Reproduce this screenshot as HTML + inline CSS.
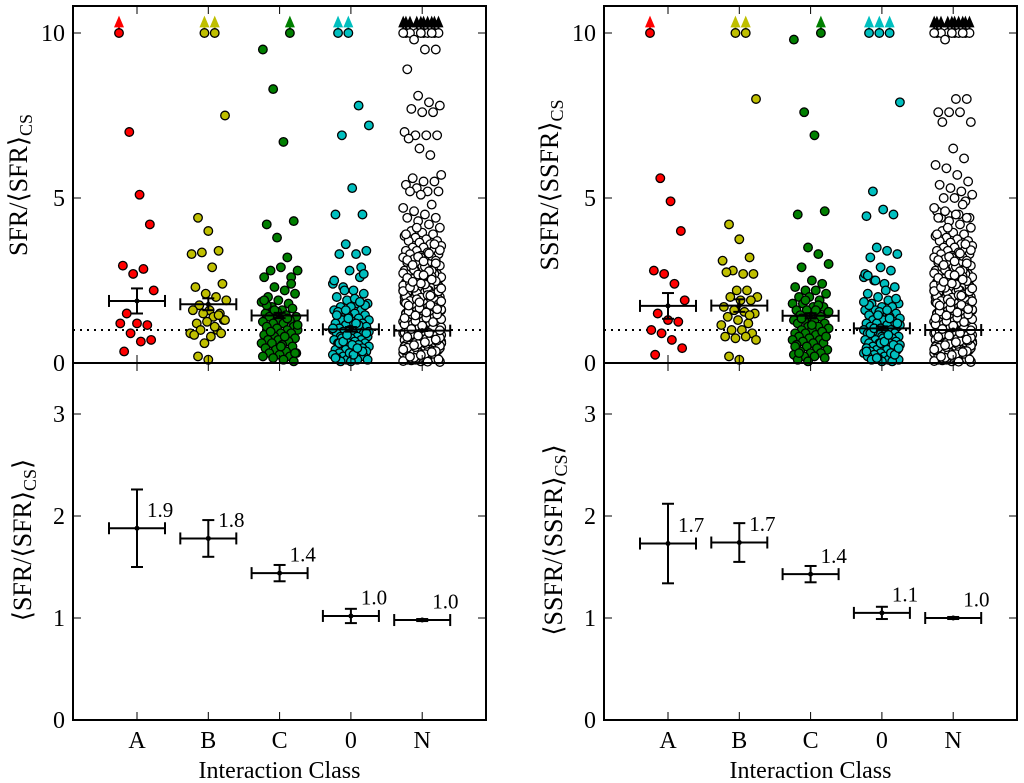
<!DOCTYPE html>
<html><head><meta charset="utf-8"><style>
html,body{margin:0;padding:0;background:#fff;}
svg{display:block;font-family:"Liberation Serif",serif;}
</style></head><body>
<svg id="fig" width="1024" height="783" viewBox="0 0 1024 783" xmlns="http://www.w3.org/2000/svg"></svg>
<script>
const categories = ["A","B","C","0","N"];
const colors = ["#ff0000","#bfbf00","#007f00","#00bfbf","#ffffff"];
// values above 10 are off-scale (drawn at 10 with an arrow)
const sfrA = [12,7.0,5.1,4.2,2.95,2.7,2.85,2.2,1.5,1.2,1.15,1.2,0.9,0.65,0.7,0.35];
const sfrB = [12,12,7.5,4.4,4.0,3.4,3.3,3.35,2.9,2.4,2.3,2.1,2.0,1.9,1.75,1.6,1.5,1.6,1.5,1.4,1.3,1.2,1.25,1.0,0.9,1.0,0.8,0.9,0.85,0.6,1.1,1.3,0.2,0.1,1.45];
const sfrC = [12,9.5,8.3,6.7,4.3,4.2,3.8,3.2,2.8,2.8,2.9,2.6,2.6,2.3,2.2,2.1,2.0,1.9,1.8,1.85,1.7,1.6,1.65,1.5,1.5,1.45,1.4,1.4,1.3,1.3,1.25,1.2,1.2,1.1,1.1,1.05,1.0,1.0,0.95,0.9,0.9,0.85,0.8,0.8,0.75,0.7,0.7,0.65,0.6,0.6,0.55,0.5,0.45,0.4,0.35,0.3,0.3,0.25,0.2,0.2,0.15,0.1,0.05,1.75,1.55,1.35,1.15,0.95,0.5,2.4,1.9,1.6,0.8,0.3];
const sfr0 = [12,12,7.8,7.2,6.9,5.3,4.5,4.5,3.6,3.3,3.4,3.3,2.8,2.6,2.4,2.3,2.2,2.1,2.0,1.9,1.8,1.8,1.7,1.7,1.6,1.6,1.5,1.5,1.45,1.4,1.4,1.35,1.3,1.3,1.25,1.2,1.2,1.15,1.1,1.1,1.05,1.0,1.0,1.0,0.95,0.9,0.9,0.9,0.85,0.8,0.8,0.8,0.75,0.7,0.7,0.7,0.65,0.6,0.6,0.6,0.55,0.5,0.5,0.5,0.45,0.4,0.4,0.4,0.35,0.3,0.3,0.3,0.25,0.2,0.2,0.2,0.15,0.1,0.1,0.1,0.05,0.05,2.9,2.5,2.2,1.95,1.75,1.55,1.35,1.15,0.95,0.75,0.55,0.35,0.15,1.6,1.2,0.9,0.6,0.3,1.85,1.05,0.65,0.25,2.7,1.45,0.85,0.45];
const sfrN = [12,12,12,12,12,12,12,12,12,12,9.8,9.5,9.5,8.9,8.1,7.9,7.8,7.7,7.6,7.6,7.0,6.9,6.9,6.9,6.8,6.5,6.3,5.7,5.6,5.5,5.5,5.4,5.3,5.2,5.2,5.2,5.1,4.8,4.7,4.6,4.5,4.4,4.4,4.3,4.2,4.1,4.0,3.95,3.9,3.85,3.8,3.75,3.7,3.7,3.65,3.6,3.55,3.5,3.5,3.45,3.4,3.4,3.35,3.3,3.3,3.25,3.2,3.2,3.15,3.1,3.1,3.05,3.0,3.0,2.95,2.9,2.9,2.85,2.8,2.8,2.75,2.7,2.7,2.65,2.6,2.6,2.55,2.5,2.5,2.45,2.4,2.4,2.35,2.3,2.3,2.25,2.2,2.2,2.15,2.1,2.1,2.05,2.0,2.0,1.95,1.9,1.9,1.85,1.8,1.8,1.75,1.7,1.7,1.65,1.6,1.6,1.55,1.5,1.5,1.45,1.4,1.4,1.35,1.3,1.3,1.25,1.2,1.2,1.15,1.1,1.1,1.05,1.0,1.0,0.95,0.9,0.9,0.85,0.8,0.8,0.75,0.7,0.7,0.65,0.6,0.6,0.55,0.5,0.5,0.45,0.4,0.4,0.35,0.3,0.3,0.25,0.2,0.2,0.15,0.1,0.1,0.05,2.9,2.6,2.3,2.0,1.8,1.6,1.4,1.2,1.0,0.8,0.6,0.4,0.2,2.7,2.4,2.1,1.9,1.7,1.5,1.3,1.1,0.9,0.7,0.5,0.3,0.1,2.5,2.2,1.9,1.6,1.3,1.0,0.7,0.4,0.15,2.0,1.7,1.4,1.1,0.85,0.55,0.25,1.8,1.5,1.2,0.95,0.65,0.35,0.05,1.6,1.25,0.9,0.6,0.3,1.35,1.05,0.75,0.45,0.2,1.15,0.85,0.5,0.1,0.95,0.65,0.3,0.8,0.4,0.6,0.2,1.45,1.0,0.55,0.15,1.25,0.7,0.35,3.2,2.8,2.35,1.95,1.55,
 0.12,0.22,0.32,0.42,0.52,0.62,0.72,0.82,0.92,1.02,1.12,1.22,1.32,1.42,1.52,1.62,1.72,1.82,1.92,2.02,2.12,2.22,2.32,2.42,2.52,2.62,2.72,2.82,2.92,3.02,3.12,3.22,3.32,3.42,
 0.08,0.18,0.28,0.38,0.48,0.58,0.68,0.78,0.88,0.98,1.08,1.18,1.28,1.38,1.48,1.58,1.68,1.78,1.88,1.98,2.08,2.18,2.28,2.38,2.48,2.58,2.68,2.78,
 0.03,0.14,0.26,0.37,0.49,0.61,0.73,0.86,0.97,1.09,1.21,1.33,1.46,1.57,1.69,1.81,1.93,2.06,2.17,2.29,2.41,2.53,
 0.06,0.16,0.27,0.36,0.46,0.57,0.66,0.77,0.87,0.96,1.07,1.17,1.27,1.37,1.47,1.56,1.66,1.76,1.87,2.97,3.08,3.6,3.9,4.1,
 0.04,0.11,0.19,0.24,0.33,0.41,0.54,0.63,0.71,0.79,0.83,0.91,0.99,1.03,1.13,1.24,1.36,1.44,1.53,1.63,1.74,1.84,2.04,2.26,2.46,2.66];
const ssfrA = [12,5.6,4.9,4.0,2.8,2.7,2.4,1.9,1.5,1.3,1.25,1.0,0.9,0.7,0.45,0.25];
const ssfrB = [12,12,8.0,4.2,3.75,3.2,3.1,2.8,2.7,2.7,2.75,2.2,2.2,2.0,2.0,1.9,1.9,1.7,1.6,1.55,1.5,1.4,1.3,1.2,1.15,1.0,1.0,0.9,0.8,0.75,0.8,0.7,0.2,0.1,1.45];
const ssfrC = [12,9.8,7.6,6.9,4.6,4.5,3.5,3.3,3.0,2.9,2.5,2.4,2.3,2.2,2.2,2.1,2.0,2.0,1.9,1.8,1.8,1.7,1.7,1.6,1.6,1.5,1.5,1.45,1.4,1.4,1.3,1.3,1.25,1.2,1.2,1.1,1.1,1.05,1.0,1.0,0.95,0.9,0.9,0.85,0.8,0.8,0.75,0.7,0.7,0.65,0.6,0.6,0.55,0.5,0.45,0.4,0.35,0.3,0.3,0.25,0.2,0.2,0.15,0.1,0.05,1.75,1.55,1.35,1.15,0.95,0.5,1.9,1.6,0.8,0.3];
const ssfr0 = [12,12,12,7.9,5.2,4.65,4.5,4.45,3.5,3.4,3.3,3.2,2.9,2.8,2.6,2.5,2.4,2.3,2.1,2.0,1.9,1.8,1.8,1.7,1.7,1.6,1.6,1.5,1.5,1.45,1.4,1.4,1.35,1.3,1.3,1.25,1.2,1.2,1.15,1.1,1.1,1.05,1.0,1.0,1.0,0.95,0.9,0.9,0.9,0.85,0.8,0.8,0.8,0.75,0.7,0.7,0.7,0.65,0.6,0.6,0.6,0.55,0.5,0.5,0.5,0.45,0.4,0.4,0.4,0.35,0.3,0.3,0.3,0.25,0.2,0.2,0.2,0.15,0.1,0.1,0.1,0.05,0.05,2.7,2.5,2.2,1.95,1.75,1.55,1.35,1.15,0.95,0.75,0.55,0.35,0.15,1.6,1.2,0.9,0.6,0.3,1.85,1.05,0.65,0.25,2.65,1.45,0.85,0.45];
const ssfrN = sfrN.slice(0);
ssfrN.splice(10,27,9.8,8.0,8.0,7.6,7.6,7.6,7.3,7.3,6.5,6.2,6.0,5.9,5.7,5.5,5.4,5.3,5.2,5.1,5.0,5.0,4.9,4.6,4.5,4.5,4.4,4.4,3.8);
const sfrData = [sfrA,sfrB,sfrC,sfr0,sfrN];
const ssfrData = [ssfrA,ssfrB,ssfrC,ssfr0,ssfrN];
const sfrMean = [1.88,1.78,1.44,1.02,0.98];
const sfrLo = [1.50,1.60,1.36,0.95,0.97];
const sfrHi = [2.26,1.96,1.52,1.09,0.99];
const sfrLabels = ["1.9","1.8","1.4","1.0","1.0"];
const ssfrMean = [1.73,1.74,1.43,1.05,1.00];
const ssfrLo = [1.34,1.55,1.35,0.99,0.99];
const ssfrHi = [2.12,1.93,1.51,1.11,1.01];
const ssfrLabels = ["1.7","1.7","1.4","1.1","1.0"];
const topTicks = [0,5,10];
const botTicks = [0,1,2,3];

const NS="http://www.w3.org/2000/svg";
const svg=document.getElementById('fig');
function el(tag,attrs,parent){const e=document.createElementNS(NS,tag);for(const k in attrs)e.setAttribute(k,attrs[k]);(parent||svg).appendChild(e);return e;}

function panel(ox, data, mean, lo, hi, labels, name, ylab1, ylab2){
  const L=73+ox, R=486+ox, T=6, M=363, B=720;
  const xs=i=>137+ox+i*71.3;
  const yt=v=>363-33*v;
  const yb=v=>720-102*v;
  const g=el('g',{});
  
  
  const dl=el('line',{x1:L,x2:R,y1:yt(1),y2:yt(1),stroke:'#000','stroke-width':2,'stroke-dasharray':'2,5'},g);
  
  
  data.forEach((arr,ci)=>{
    const sg=el('g',{},g);
    
    
    const w = ci===4?19:18;
    arr.forEach((v,i)=>{
      const j=(((i*37+ci*11)%29)/28-0.5)*2*w;
      const x=xs(ci)+j;
      const vv=Math.min(v,10);
      if(v>10){
        const a=el('path',{d:`M${x} ${yt(10)} L${x} ${yt(10.2)} M${x-3.5} ${yt(10.2)} L${x} ${yt(10.45)} L${x+3.5} ${yt(10.2)} Z`,stroke:ci===4?'#000':colors[ci],fill:ci===4?'#000':colors[ci],'stroke-width':2},sg);
        
        
      }
      const c=el('circle',{cx:x,cy:yt(vv),r:4.3,fill:colors[ci],stroke:'#000','stroke-width':1.3},sg);
      
      
    });
  });
  [[yt,'top'],[yb,'bottom']].forEach(([yf,nm])=>{
    mean.forEach((m,i)=>{
      const x=xs(i);
      const eg=el('g',{stroke:'#000','stroke-width':2,fill:'none'},g);
      
      
      el('line',{x1:x-28,x2:x+28,y1:yf(m),y2:yf(m)},eg);
      el('line',{x1:x-28,x2:x-28,y1:yf(m)-6,y2:yf(m)+6},eg);
      el('line',{x1:x+28,x2:x+28,y1:yf(m)-6,y2:yf(m)+6},eg);
      el('line',{x1:x,x2:x,y1:yf(lo[i]),y2:yf(hi[i])},eg);
      el('line',{x1:x-6,x2:x+6,y1:yf(lo[i]),y2:yf(lo[i])},eg);
      el('line',{x1:x-6,x2:x+6,y1:yf(hi[i]),y2:yf(hi[i])},eg);
      el('circle',{cx:x,cy:yf(m),r:2.5,fill:'#000',stroke:'none'},eg);
    });
  });
  labels.forEach((t,i)=>{
    const tx=el('text',{x:xs(i)+10,y:yb(mean[i]+0.19)+8,'font-size':21,fill:'#000'},g);
    tx.textContent=t;
    
    
  });
  el('rect',{x:L,y:T,width:R-L,height:M-T,fill:'none',stroke:'#000','stroke-width':2},g);
  el('rect',{x:L,y:M,width:R-L,height:B-M,fill:'none',stroke:'#000','stroke-width':2},g);
  topTicks.forEach(v=>{
    el('line',{x1:L,x2:L+8,y1:yt(v),y2:yt(v),stroke:'#000','stroke-width':1},g);
    el('line',{x1:R,x2:R-8,y1:yt(v),y2:yt(v),stroke:'#000','stroke-width':1},g);
    const t=el('text',{x:L-8,y:yt(v)+8,'text-anchor':'end','font-size':24},g);
    t.textContent=v;
    
    
  });
  botTicks.forEach(v=>{
    el('line',{x1:L,x2:L+8,y1:yb(v),y2:yb(v),stroke:'#000','stroke-width':1},g);
    el('line',{x1:R,x2:R-8,y1:yb(v),y2:yb(v),stroke:'#000','stroke-width':1},g);
    const t=el('text',{x:L-8,y:yb(v)+8,'text-anchor':'end','font-size':24},g);
    t.textContent=v;
    
    
  });
  categories.forEach((c,i)=>{
    const x=xs(i);
    el('line',{x1:x,x2:x,y1:T,y2:T+8,stroke:'#000','stroke-width':1},g);
    el('line',{x1:x,x2:x,y1:M,y2:M-8,stroke:'#000','stroke-width':1},g);
    el('line',{x1:x,x2:x,y1:M,y2:M+8,stroke:'#000','stroke-width':1},g);
    el('line',{x1:x,x2:x,y1:B,y2:B-8,stroke:'#000','stroke-width':1},g);
    const t=el('text',{x:x,y:748,'text-anchor':'middle','font-size':24},g);
    t.textContent=c;
    
    
  });
  const xt=el('text',{x:(L+R)/2,y:778,'text-anchor':'middle','font-size':24},g);
  xt.textContent='Interaction Class';
  
  
  const y1=el('text',{transform:`translate(${ox+27},185) rotate(-90)`,'text-anchor':'middle','font-size':26},g);
  y1.innerHTML=ylab1+'<tspan font-size="18" dy="5">CS</tspan>';
  
  
  const y2=el('text',{transform:`translate(${ox+31},540) rotate(-90)`,'text-anchor':'middle','font-size':26},g);
  y2.innerHTML=ylab2+'<tspan font-size="18" dy="5">CS</tspan><tspan dy="-5">⟩</tspan>';
  
  
}
panel(0,sfrData,sfrMean,sfrLo,sfrHi,sfrLabels,'sfr','SFR/⟨SFR⟩','⟨SFR/⟨SFR⟩');
panel(531,ssfrData,ssfrMean,ssfrLo,ssfrHi,ssfrLabels,'ssfr','SSFR/⟨SSFR⟩','⟨SSFR/⟨SSFR⟩');
</script>
</body></html>
